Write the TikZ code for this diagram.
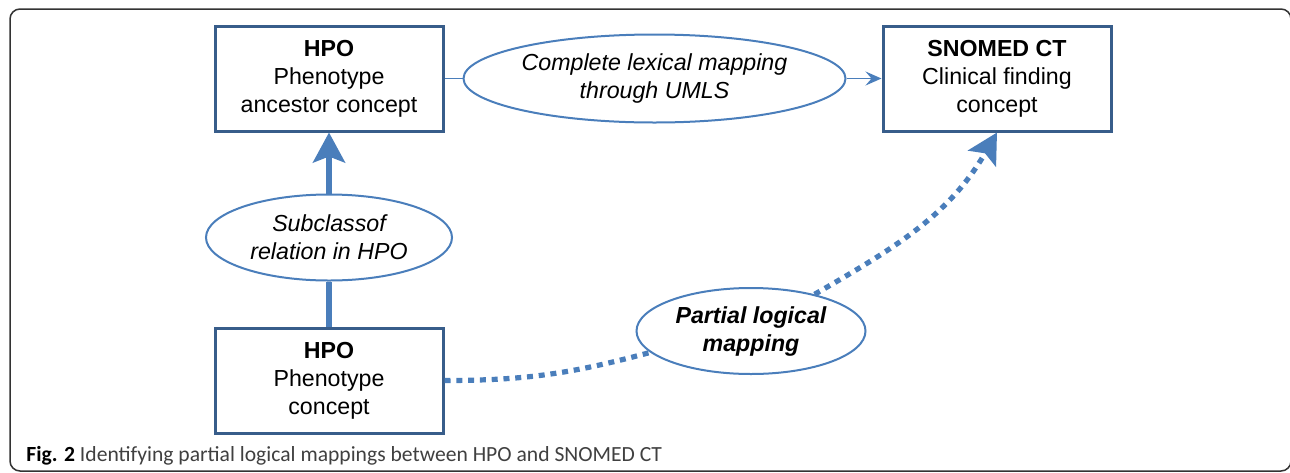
\documentclass[tikz,border=0pt]{standalone}
\usepackage{fontspec}
\setmainfont{Liberation Sans}
\newfontfamily\capfont{Carlito}
\usetikzlibrary{arrows.meta}
\usetikzlibrary{shapes.geometric}
\usetikzlibrary{positioning}
\definecolor{boxblue}{HTML}{385D8A}
\definecolor{lineblue}{HTML}{4A7EBB}

\begin{document}
\begin{tikzpicture}[x=0.5pt,y=-0.5pt,
                    every node/.style={font=\fontsize{11.6}{14}\selectfont},
                    concept node/.style={rectangle,draw=boxblue,line width=1.5pt,align=center,
                                         minimum width=114pt,minimum height=52.5pt,inner sep=0pt},
                    relation node/.style={ellipse,draw=lineblue,line width=1pt,align=center,inner sep=0pt,
                                          font=\fontsize{11.6}{14}\selectfont\itshape},
                    thin link/.style={draw=lineblue,line width=0.8pt},
                    thick link/.style={draw=lineblue,line width=2.75pt},
                    dotted link/.style={draw=lineblue,line width=2.6pt,dash pattern=on 3pt off 2.9pt},
                    small head/.style={-{Stealth[length=8pt,width=7pt,inset=3pt]}},
                    big head/.style={-{Stealth[length=15pt,width=16pt,inset=3pt]}}]

  % frame and caption
  \useasboundingbox (0,0) rectangle (1290,472);
  \draw[black!80,line width=0.75pt,rounded corners=5pt] (10,9) rectangle (1291,471);
  \node[anchor=base west,inner sep=0pt,text=black!75,font=\capfont\fontsize{10.8}{13}\selectfont]
    (caption) at (26,461) {\textbf{\color{black}Fig. 2} Identifying partial logical mappings between HPO and SNOMED CT};

  \node[concept node] (ancestor) at (329,78.5) {\textbf{HPO}\\Phenotype\\ancestor concept};
  \node[relation node,minimum width=123pt,minimum height=43pt] (subclass) [below=30.5pt of ancestor] {Subclassof\\relation in HPO};
  \node[concept node] (pheno) [below=22.5pt of subclass] {\textbf{HPO}\\Phenotype\\concept};
  \node[relation node,minimum width=191pt,minimum height=44pt] (lexical) [right=9pt of ancestor] {Complete lexical mapping\\through UMLS};
  \node[concept node] (snomed) [right=17.5pt of lexical] {\textbf{SNOMED CT}\\Clinical finding\\concept};
  \node[relation node,minimum width=114.5pt,minimum height=43pt,font=\fontsize{11.6}{14}\selectfont\bfseries\itshape]
    (partial) at (751,331) {Partial logical\\mapping};

  \path
    (ancestor) edge[thin link] (lexical)
    (lexical) edge[thin link,small head] (snomed)
    (pheno) edge[thick link] (subclass)
    (subclass) edge[thick link,big head] (ancestor)
    (pheno.east) edge[dotted link,out=0,in=195] (partial.192)
    (partial.30) edge[dotted link,big head,out=30,in=240] (snomed.south);
\end{tikzpicture}
\end{document}
